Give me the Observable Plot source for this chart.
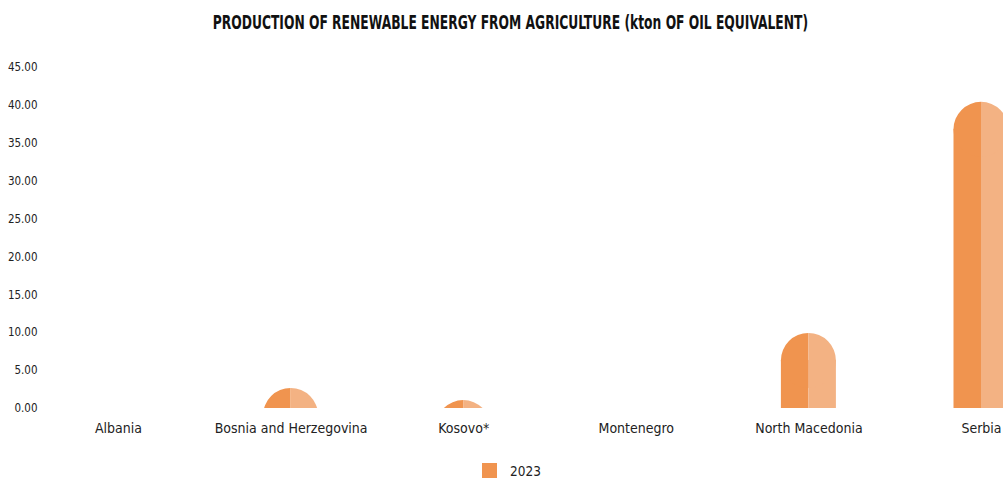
<!DOCTYPE html>
<html>
<head>
<meta charset="utf-8">
<script src="https://cdn.jsdelivr.net/npm/d3@7"></script>
<script src="https://cdn.jsdelivr.net/npm/@observablehq/plot@0.6"></script>
<style>
  html, body { margin: 0; padding: 0; background: #fff; overflow: hidden; }
  body { width: 1003px; height: 479px; font-family: "Liberation Sans Narrow", "DejaVu Sans Condensed", "Roboto", sans-serif; color: #222; }
  #title { height: 50px; line-height: 44px; text-align: center; padding-left: 17px; box-sizing: border-box; }
  #title span { display: inline-block; font-weight: bold; font-size: 19px; color: #111; transform: scaleX(0.72); white-space: nowrap; }
  #chart { height: 398px; }
  #legend { height: 31px; position: relative; font-size: 13.5px; }
  #legend .sw { position: absolute; left: 482px; top: 15px; width: 15px; height: 15px; background: #F0944F; }
  #legend .lb { position: absolute; left: 510px; top: 14px; line-height: 18px; }
</style>
</head>
<body>
<div id="title"><span>PRODUCTION OF RENEWABLE ENERGY FROM AGRICULTURE (kton OF OIL EQUIVALENT)</span></div>
<div id="chart"></div>
<div id="legend"><span class="sw"></span><span class="lb">2023</span></div>
<script>
const countries = ["Albania", "Bosnia and Herzegovina", "Kosovo*", "Montenegro", "North Macedonia", "Serbia"];
const values2023 = [0, 2.65, 1.05, 0, 9.9, 40.4];
const yTicks = [0, 5, 10, 15, 20, 25, 30, 35, 40, 45];
const seriesName = "2023";
const darkColor = "#F0944F";
const lightColor = "#F3B283";

const data = countries.map((c, i) => ({country: c, value: values2023[i]}));

const step = 172.6, barW = 55, r = barW / 2;
const leftHalf = {draw(ctx, size) { const rr = Math.sqrt(size / Math.PI); ctx.moveTo(0, -rr); ctx.arc(0, 0, rr, -Math.PI / 2, Math.PI / 2, true); ctx.closePath(); }};
const rightHalf = {draw(ctx, size) { const rr = Math.sqrt(size / Math.PI); ctx.moveTo(0, -rr); ctx.arc(0, 0, rr, -Math.PI / 2, Math.PI / 2, false); ctx.closePath(); }};

const chart = Plot.plot({
  width: 1003,
  height: 398,
  marginTop: 17,
  marginBottom: 40,
  marginLeft: 40,
  marginRight: 0,
  style: {fontFamily: '"Liberation Sans Narrow", "DejaVu Sans Condensed", sans-serif', fontSize: "12px", color: "#222", background: "transparent"},
  x: {type: "band", domain: countries, range: [118 - step / 2, 118 + step * 5.5], paddingInner: 1 - barW / step, paddingOuter: (1 - barW / step) / 2, round: false, label: null},
  y: {domain: [0, 45], ticks: yTicks, tickFormat: d3.format(".2f"), label: null},
  marks: [
    Plot.axisY({ticks: yTicks, tickFormat: d3.format(".2f"), tickSize: 0, tickPadding: 3, fontSize: 11.5, label: null}),
    Plot.axisX({tickSize: 0, tickPadding: 15, fontSize: 14, label: null}),
    Plot.barY(data, {x: "country", y: "value", fill: darkColor, insetRight: r, insetTop: r - 0.5}),
    Plot.barY(data, {x: "country", y: "value", fill: lightColor, insetLeft: r, insetTop: r - 0.5}),
    Plot.dot(data, {x: "country", y: "value", dx: -0.5, dy: r - 0.5, r: r, symbol: leftHalf, fill: darkColor, stroke: null, clip: "frame"}),
    Plot.dot(data, {x: "country", y: "value", dx: -0.5, dy: r - 0.5, r: r, symbol: rightHalf, fill: lightColor, stroke: null, clip: "frame"})
  ]
});
document.getElementById("chart").appendChild(chart);
</script>
</body>
</html>
